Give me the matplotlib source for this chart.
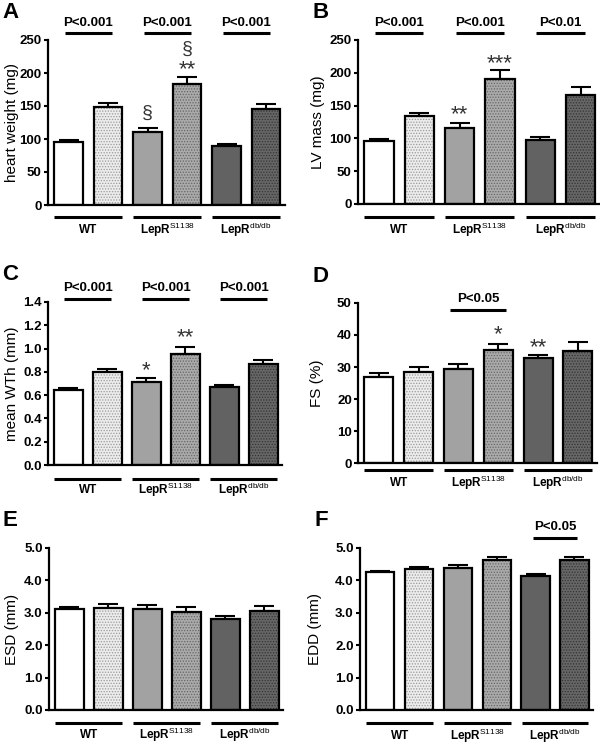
import numpy as np
import matplotlib
matplotlib.use('Agg')
from matplotlib import pyplot as plt
from matplotlib import transforms

plt.rcParams['font.family'] = ['Liberation Sans', 'DejaVu Sans']
plt.rcParams['mathtext.fontset'] = 'custom'
plt.rcParams['mathtext.rm'] = 'Liberation Sans'
plt.rcParams['mathtext.bf'] = 'Liberation Sans:bold'
plt.rcParams['hatch.linewidth'] = 0.6

groups = ['WT', r'$\mathbf{LepR}^{\mathrm{S1138}}$', r'$\mathbf{LepR}^{\mathrm{db/db}}$']

hw_mean = [96, 148, 110, 184, 89, 145]
hw_err = [3, 6, 7, 10, 3, 8]
lvm_mean = [95.5, 133.6, 116, 190, 98, 165.6]
lvm_err = [4, 5, 7, 14, 4.5, 13]
wth_mean = [0.643, 0.803, 0.711, 0.955, 0.674, 0.869]
wth_err = [0.017, 0.02, 0.032, 0.058, 0.014, 0.029]
fs_mean = [27.0, 28.4, 29.3, 35.3, 32.9, 35.1]
fs_err = [1.0, 1.7, 1.6, 2.0, 0.7, 2.7]
esd_mean = [3.12, 3.15, 3.12, 3.02, 2.82, 3.05]
esd_err = [0.05, 0.12, 0.12, 0.16, 0.07, 0.17]
edd_mean = [4.25, 4.34, 4.37, 4.62, 4.15, 4.64]
edd_err = [0.05, 0.08, 0.09, 0.1, 0.06, 0.08]

faces = ['white', '#ececec', '#a2a2a2', '#aaaaaa', '#626262', '#666666']
hatches = [None, '......', None, '......', None, '......']
hatch_cols = ['black', '#9a9a9a', 'black', '#666666', 'black', '#343434']

W, H = 600, 746
fig = plt.figure(figsize=(W / 100, H / 100), dpi=100)


def box(l, t, r, b):
    return [l / W, 1 - b / H, (r - l) / W, (b - t) / H]


def panel(rect, letter, means, errs, ylabel, ylab_px, ylim, yticks, fmt,
          pvals, marks, gline_px, glabel_px):
    ax = fig.add_axes(box(*rect))
    h_px = rect[3] - rect[1]
    w_px = rect[2] - rect[0]
    x = np.arange(6)
    ax.bar(x, means, width=0.73, color=faces, edgecolor=hatch_cols,
           hatch=hatches, linewidth=0, zorder=2)
    ax.bar(x, means, width=0.73, fill=False, edgecolor='black',
           linewidth=1.6, zorder=3)
    ax.errorbar(x, means, yerr=[np.zeros(6), errs], fmt='none',
                ecolor='black', elinewidth=1.5, capsize=7.5, capthick=1.5,
                zorder=1)
    ax.set_xlim(-0.52, 5.48)
    ax.set_ylim(*ylim)
    ax.set_yticks(yticks)
    ax.set_yticklabels([fmt.format(v) for v in yticks], fontweight='bold',
                       fontsize=9.5)
    ax.set_xticks([])
    ax.set_ylabel(ylabel, fontsize=11)
    ax.yaxis.label.set_verticalalignment('center')
    ax.yaxis.set_label_coords((ylab_px - rect[0]) / w_px, 0.5)
    for s in ('top', 'right'):
        ax.spines[s].set_visible(False)
    for s in ('left', 'bottom'):
        ax.spines[s].set_linewidth(1.6)
    ax.tick_params(axis='y', width=1.5, length=3, pad=1.5)

    tr = transforms.blended_transform_factory(ax.transData, ax.transAxes)
    # p-value brackets
    for (i, j, half, text, line_px, text_px) in pvals:
        mid = (i + j) / 2
        yl = (rect[3] - line_px) / h_px
        yt = (rect[3] - text_px) / h_px
        ax.plot([mid - half, mid + half], [yl, yl], color='black', lw=2.2,
                transform=tr, clip_on=False, solid_capstyle='butt')
        ax.text(mid, yt, text, transform=tr, ha='center', va='center',
                fontsize=9.5, fontweight='bold')
    # significance marks above bars
    for (i, yv, text, size) in marks:
        ax.text(i, yv, text, ha='center', va='center', fontsize=size,
                color='#333333')
    # group lines and labels
    yg = (rect[3] - gline_px) / h_px
    yl = (rect[3] - glabel_px) / h_px
    for k, g in enumerate(groups):
        a, b = 2 * k - 0.36, 2 * k + 1 + 0.36
        ax.plot([a, b], [yg, yg], color='black', lw=2.2, transform=tr,
                clip_on=False, solid_capstyle='butt')
        ax.text(2 * k + 0.5, yl, g, transform=tr, ha='center', va='center',
                fontsize=8.5, fontweight='bold')
    fig.text((rect[0] - 46) / W, 1 - (rect[1] - 27) / H, letter,
             fontsize=16, fontweight='bold', va='center', ha='left')
    return ax


panel((48, 40, 285, 205), 'A', hw_mean, hw_err, 'heart weight (mg)', 12,
      (0, 250), [0, 50, 100, 150, 200, 250], '{:.0f}',
      [(0, 1, 0.6, 'P<0.001', 33, 23), (2, 3, 0.6, 'P<0.001', 33, 23),
       (4, 5, 0.6, 'P<0.001', 33, 23)],
      [(2, 139, '§', 14), (3, 205, '**', 16), (3, 236, '§', 14)],
      217, 230)

panel((358, 40, 600, 204), 'B', lvm_mean, lvm_err, 'LV mass (mg)', 318,
      (0, 250), [0, 50, 100, 150, 200, 250], '{:.0f}',
      [(0, 1, 0.6, 'P<0.001', 33, 23), (2, 3, 0.6, 'P<0.001', 33, 23),
       (4, 5, 0.6, 'P<0.01', 33, 23)],
      [(2, 136, '**', 16), (3, 214, '***', 16)],
      217, 230)

panel((48, 302, 282, 465), 'C', wth_mean, wth_err, 'mean WTh (mm)', 12,
      (0, 1.4), [0.0, 0.2, 0.4, 0.6, 0.8, 1.0, 1.2, 1.4], '{:.1f}',
      [(0, 1, 0.6, 'P<0.001', 299, 288), (2, 3, 0.6, 'P<0.001', 299, 288),
       (4, 5, 0.6, 'P<0.001', 299, 288)],
      [(2, 0.81, '*', 16), (3, 1.09, '**', 16)],
      479, 490)

panel((358, 303, 597, 463), 'D', fs_mean, fs_err, 'FS (%)', 317,
      (0, 50), [0, 10, 20, 30, 40, 50], '{:.0f}',
      [(2, 3, 0.7, 'P<0.05', 310, 299)],
      [(3, 40, '*', 16), (4, 36, '**', 16)],
      470, 483)

panel((49, 548, 283, 710), 'E', esd_mean, esd_err, 'ESD (mm)', 12,
      (0, 5), [0.0, 1.0, 2.0, 3.0, 4.0, 5.0], '{:.1f}',
      [], [], 723, 735)

panel((360, 548, 593, 710), 'F', edd_mean, edd_err, 'EDD (mm)', 315,
      (0, 5), [0.0, 1.0, 2.0, 3.0, 4.0, 5.0], '{:.1f}',
      [(4, 5, 0.57, 'P<0.05', 538, 527)], [], 723, 736)

fig.savefig('out.png', dpi=100)
